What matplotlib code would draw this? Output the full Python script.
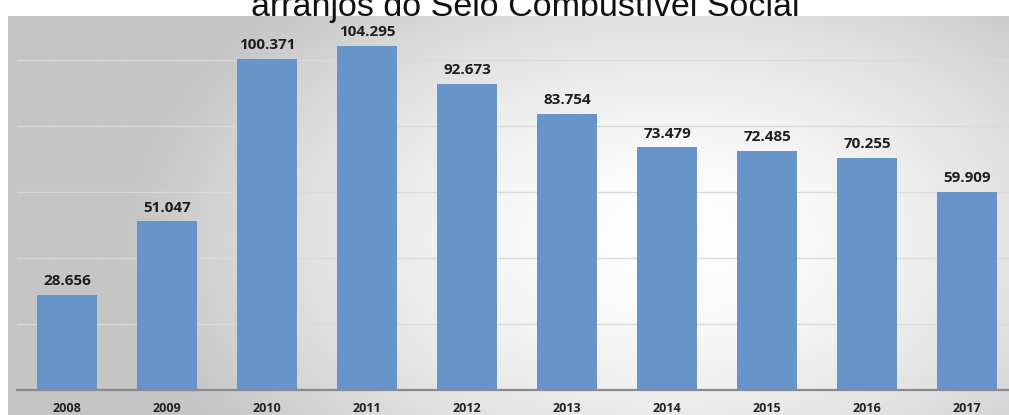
import numpy as np
import matplotlib.pyplot as plt

# number of establishments per year (thousands)
anos = ['2008', '2009', '2010', '2011', '2012', '2013', '2014', '2015', '2016', '2017']
valores = [28.656, 51.047, 100.371, 104.295, 92.673, 83.754, 73.479, 72.485, 70.255, 59.909]
rotulos = ['28.656', '51.047', '100.371', '104.295', '92.673', '83.754', '73.479', '72.485', '70.255', '59.909']
titulo = 'arranjos do Selo Combustível Social'

W, H = 1009, 415
fig = plt.figure(figsize=(W / 100, H / 100), dpi=100)
fig.patch.set_facecolor('white')

# grey panel with a soft radial highlight
bg = fig.add_axes([8 / W, 0, 1 - 8 / W, (H - 16) / H])
bg.set_axis_off()
gx, gy = np.meshgrid(np.linspace(8, W, 400), np.linspace(16, H, 200))
r = np.sqrt(((gx - 670) / 560) ** 2 + ((gy - 240) / 340) ** 2)
shade = np.clip(1.0 - 0.24 * r ** 1.6, 0.77, 1.0)
bg.imshow(shade, cmap='gray', vmin=0, vmax=1, aspect='auto',
          extent=[0, 1, 0, 1], origin='upper', interpolation='bicubic')

ax = fig.add_axes([17 / W, (H - 390) / H, 1 - 17 / W, (390 - 17) / H])
ax.patch.set_alpha(0)
x = np.arange(len(anos))
ax.bar(x, valores, width=0.6, color='#6794c9', zorder=3)
ax.set_xlim(-0.5, 9.42)
ax.set_ylim(0, 113)
ax.set_yticks([20, 40, 60, 80, 100])
ax.yaxis.grid(True, color='#dadada', linewidth=1, zorder=0)
ax.tick_params(left=False, labelleft=False, bottom=False, pad=5)
ax.set_xticks(x)
ax.set_xticklabels(anos, fontsize=9, fontweight='bold', color='#222222', family='Open Sans')
for s in ['top', 'right', 'left']:
    ax.spines[s].set_visible(False)
ax.spines['bottom'].set_color('#8a8a8a')
ax.spines['bottom'].set_linewidth(1.6)

for xi, v, lab in zip(x, valores, rotulos):
    ax.annotate(lab, (xi, v), xytext=(0, 5), textcoords='offset points',
                ha='center', va='bottom', fontsize=11, fontweight='bold',
                color='#1e1e1e', family='Open Sans')

fig.text(525 / W, 1 - 16 / H, titulo, ha='center', va='baseline',
         fontsize=24.5, family='Liberation Sans', color='#111111')

fig.savefig('out.png', dpi=100)
